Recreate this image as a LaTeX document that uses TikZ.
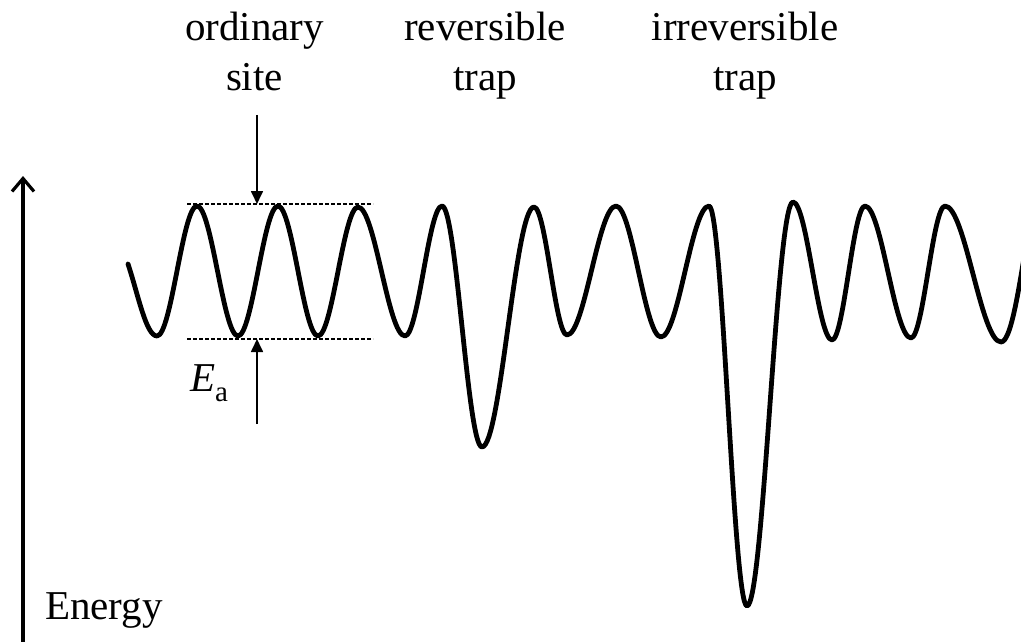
\documentclass[tikz,border=0pt]{standalone}
\usepackage{fontspec}
\setmainfont{Liberation Serif}
\usetikzlibrary{arrows.meta}
\begin{document}
\begin{tikzpicture}[x=1pt,y=-1pt,
  lbl/.style={inner sep=0pt,align=center,font=\fontsize{41}{50}\selectfont},
  curve/.style={line width=4.8pt,line join=round,line cap=round},
  axis/.style={line width=3.2pt,-{Straight Barb[length=13pt,width=22pt]}},
  guide/.style={line width=1.3pt,dash pattern=on 4pt off 2pt},
  marker/.style={line width=1.7pt,-{Triangle[length=13pt,width=12pt]}}]
\useasboundingbox (0,0) rectangle (1021,642);
% labels
\node[lbl,anchor=north] (ord) at (254.5,12) {ordinary\\site};
\node[lbl,anchor=north] (rev) at (485,12) {reversible\\trap};
\node[lbl,anchor=north] (irr) at (745,12) {irreversible\\trap};
\node[lbl,anchor=base west] (en) at (45,619) {Energy};
\node[lbl,anchor=base west] (ea) at (190,391) {\textit{E}\raisebox{-10pt}{\fontsize{29}{29}\selectfont a}};
% energy axis
\coordinate (ax0) at (23,642);
\coordinate (ax1) at (23,176);
\draw[axis] (ax0) -- (ax1);
% guides
\coordinate (gt0) at (187,204); \coordinate (gt1) at (373,204);
\coordinate (gb0) at (187,339); \coordinate (gb1) at (373,339);
\draw[guide] (gt0) -- (gt1);
\draw[guide] (gb0) -- (gb1);
% marker arrows
\coordinate (mt0) at (257,115); \coordinate (mt1) at (257,204);
\coordinate (mb0) at (257,424); \coordinate (mb1) at (257,339);
\draw[marker] (mt0) -- (mt1);
\draw[marker] (mb0) -- (mb1);
% potential energy curve
\draw[curve] (128,264)
  .. controls (138,294) and (146,336) .. (157,336)
  .. controls (171.4,336) and (182.6,206) .. (197,206)
  .. controls (211.76,206) and (223.24,336) .. (238,336)
  .. controls (252.4,336) and (263.6,206) .. (278,206)
  .. controls (292.4,206) and (303.6,336) .. (318,336)
  .. controls (332.4,336) and (343.6,207) .. (358,207)
  .. controls (374.92,207) and (388.08,336) .. (405,336)
  .. controls (418.32,336) and (428.68,206) .. (442,206)
  .. controls (456.4,206) and (467.6,447) .. (482,447)
  .. controls (500.72,447) and (515.28,207) .. (534,207)
  .. controls (545.88,207) and (555.12,335) .. (567,335)
  .. controls (584.64,335) and (598.36,206) .. (616,206)
  .. controls (632.2,206) and (644.8,337) .. (661,337)
  .. controls (678.28,337) and (691.72,206) .. (709,206)
  .. controls (722.68,206) and (733.32,606) .. (747,606)
  .. controls (763.56,606) and (776.44,202) .. (793,202)
  .. controls (807.04,202) and (817.96,340) .. (832,340)
  .. controls (843.88,340) and (853.12,206) .. (865,206)
  .. controls (881.56,206) and (894.44,338) .. (911,338)
  .. controls (923.24,338) and (932.76,206) .. (945,206)
  .. controls (965.16,206) and (980.84,342) .. (1001,342)
  .. controls (1010,342) and (1017,300) .. (1024,258);
\end{tikzpicture}
\end{document}
